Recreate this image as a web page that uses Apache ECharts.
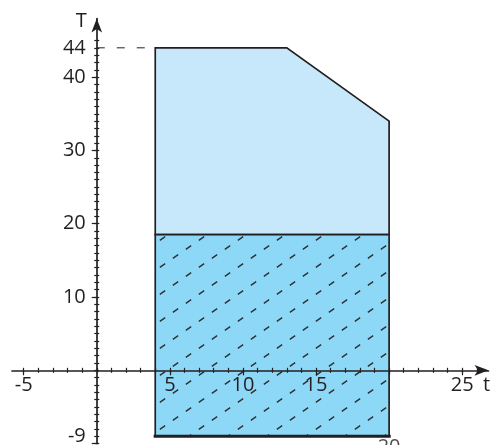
<!DOCTYPE html>
<html>
<head>
<meta charset="utf-8">
<script src="https://cdn.jsdelivr.net/npm/echarts@6/dist/echarts.min.js"></script>
<style>
  html, body { margin: 0; padding: 0; background: #fff; }
  #chart { width: 496px; height: 445px; }
</style>
</head>
<body>
<div id="chart"></div>
<script>
// Upper zone outline (t, T), clockwise from the bottom-left corner
const upperT = [4, 4, 13, 20, 20];
const upperTemp = [18.5, 44, 44, 34, 18.5];
// Lower (hatched) zone outline
const lowerT = [4, 4, 20, 20];
const lowerTemp = [-9, 18.5, 18.5, -9];
// Bottom edge of the lower zone
const bottomT = [4, 20];
const bottomTemp = [-9, -9];
// Dashed guide from the T axis to the top level
const guideT = [0, 4];
const guideTemp = [44, 44];
// Label under the right-hand edge
const cornerPoint = [20, -9];
const cornerText = '20';
// Axis tick labels
const tLabels = [-5, 5, 10, 15, 25];
const tempLabels = [-9, 10, 20, 30, 40, 44];

const T_MIN = -5.8, T_MAX = 26.8;
const Y_MIN = -10, Y_MAX = 48;

const INK = '#231f20';
const FONT = 'Open Sans';
const UPPER_FILL = '#c6e8fa';
const LOWER_FILL = '#8dd7f7';

function range(a, b) { const r = []; for (let v = a; v <= b; v++) r.push(v); return r; }
const xMinor = range(-5, 26);
const yMinor = range(-10, 45);
const xMajor = [-5, 5, 10, 15, 20, 25];
const yMajor = [-10, 10, 20, 30, 40];

// Tile with one dashed diagonal line, repeated as fill for the lower zone
function hatchTile(bg) {
  const w = 39, h = 27;
  const c = document.createElement('canvas');
  c.width = w; c.height = h;
  const g = c.getContext('2d');
  g.fillStyle = bg;
  g.fillRect(0, 0, w, h);
  const len = Math.hypot(w, h);
  const period = len / 3, dash = 6.5, gap = period - dash;
  g.strokeStyle = '#2e2e2e';
  g.lineWidth = 1.3;
  g.setLineDash([dash, gap]);
  g.lineDashOffset = dash + gap / 2;
  g.beginPath();
  g.moveTo(0, h);
  g.lineTo(w, 0);
  g.stroke();
  return c;
}

function zone(ts, temps, fill) {
  return {
    type: 'custom',
    coordinateSystem: 'cartesian2d',
    xAxisIndex: 0, yAxisIndex: 0,
    silent: true,
    z: 1,
    data: ts.map((t, i) => [t, temps[i]]),
    renderItem(params, api) {
      if (params.dataIndex !== 0) return null;
      const pts = ts.map((t, i) => api.coord([t, temps[i]]));
      return {
        type: 'polygon',
        shape: { points: pts },
        style: { fill: fill, stroke: INK, lineWidth: 1.7, lineJoin: 'miter' }
      };
    }
  };
}

const labelStyle = { fontFamily: FONT, fontSize: 20, color: INK };
const tickLine = { color: INK, width: 1.2 };

// Three stacked axes per direction: main (line, major ticks, labels),
// and two tick-only axes so the minor ticks cross the line.
function buildX(offset) {
  const base = { type: 'value', min: T_MIN, max: T_MAX, position: 'bottom', offset: offset, z: 10,
                 splitLine: { show: false } };
  return [
    Object.assign({}, base, {
      axisLine: { show: true, onZero: false, lineStyle: { color: INK, width: 1.7 },
                  symbol: ['none', 'arrow'], symbolSize: [8, 14] },
      axisTick: { show: true, inside: false, length: 5, customValues: xMajor, lineStyle: tickLine },
      axisLabel: Object.assign({ show: true, margin: 5, customValues: tLabels }, labelStyle),
      name: 't', nameLocation: 'end', nameGap: -2,
      nameTextStyle: Object.assign({ align: 'center', verticalAlign: 'top', padding: [5, 0, 0, 0] }, labelStyle)
    }),
    Object.assign({}, base, {
      axisLine: { show: false, onZero: false }, axisLabel: { show: false },
      axisTick: { show: true, inside: false, length: 2.5, customValues: xMinor, lineStyle: tickLine }
    }),
    Object.assign({}, base, {
      axisLine: { show: false, onZero: false }, axisLabel: { show: false },
      axisTick: { show: true, inside: true, length: 2.5, customValues: xMinor, lineStyle: tickLine }
    })
  ];
}

function buildY(offset) {
  const base = { type: 'value', min: Y_MIN, max: Y_MAX, position: 'left', offset: offset, z: 10,
                 splitLine: { show: false } };
  return [
    Object.assign({}, base, {
      axisLine: { show: true, onZero: false, lineStyle: { color: INK, width: 1.7 },
                  symbol: ['none', 'arrow'], symbolSize: [8, 14] },
      axisTick: { show: true, inside: false, length: 5, customValues: yMajor, lineStyle: tickLine },
      axisLabel: Object.assign({ show: true, margin: 11, customValues: tempLabels }, labelStyle),
      name: 'T', nameLocation: 'end', nameGap: -3,
      nameTextStyle: Object.assign({ align: 'right', verticalAlign: 'middle', padding: [0, 10, 0, 0] }, labelStyle)
    }),
    Object.assign({}, base, {
      axisLine: { show: false, onZero: false }, axisLabel: { show: false },
      axisTick: { show: true, inside: false, length: 2.5, customValues: yMinor, lineStyle: tickLine }
    }),
    Object.assign({}, base, {
      axisLine: { show: false, onZero: false }, axisLabel: { show: false },
      axisTick: { show: true, inside: true, length: 2.5, customValues: yMinor, lineStyle: tickLine }
    })
  ];
}

const chart = echarts.init(document.getElementById('chart'), null, { renderer: 'canvas' });
const baseOption = {
  animation: false,
  backgroundColor: '#fff',
  grid: { left: 12, right: 7.5, top: 18.5, bottom: 1.4, containLabel: false, outerBoundsMode: 'none' },
  xAxis: buildX(0),
  yAxis: buildY(0),
  series: [
    zone(upperT, upperTemp, UPPER_FILL),
    zone(lowerT, lowerTemp, { image: hatchTile(LOWER_FILL), repeat: 'repeat' }),
    {
      type: 'line', xAxisIndex: 0, yAxisIndex: 0, silent: true, z: 3,
      data: bottomT.map((t, i) => [t, bottomTemp[i]]),
      symbol: 'none',
      lineStyle: { color: INK, width: 3.2, cap: 'square' }
    },
    {
      type: 'line', xAxisIndex: 0, yAxisIndex: 0, silent: true, z: 3,
      data: guideT.map((t, i) => [t, guideTemp[i]]),
      symbol: 'none',
      lineStyle: { color: INK, width: 1, type: [8, 12] }
    },
    {
      type: 'scatter', xAxisIndex: 0, yAxisIndex: 0, silent: true, z: 3,
      data: [cornerPoint],
      symbolSize: 0,
      label: Object.assign({ show: true, position: 'bottom', distance: 1, formatter: cornerText }, labelStyle)
    }
  ]
};
chart.setOption(baseOption);

// Move both axes so they cross at the origin: shift each from the grid edge
// to the pixel position of zero on the other axis.
const origin = chart.convertToPixel({ gridIndex: 0 }, [0, 0]);
const corner = chart.convertToPixel({ gridIndex: 0 }, [T_MIN, Y_MIN]);
const xOffset = origin[1] - corner[1];   // negative: upward into the grid
const yOffset = corner[0] - origin[0];   // negative: rightward into the grid
chart.setOption({ xAxis: buildX(xOffset), yAxis: buildY(yOffset) });
</script>
</body>
</html>
